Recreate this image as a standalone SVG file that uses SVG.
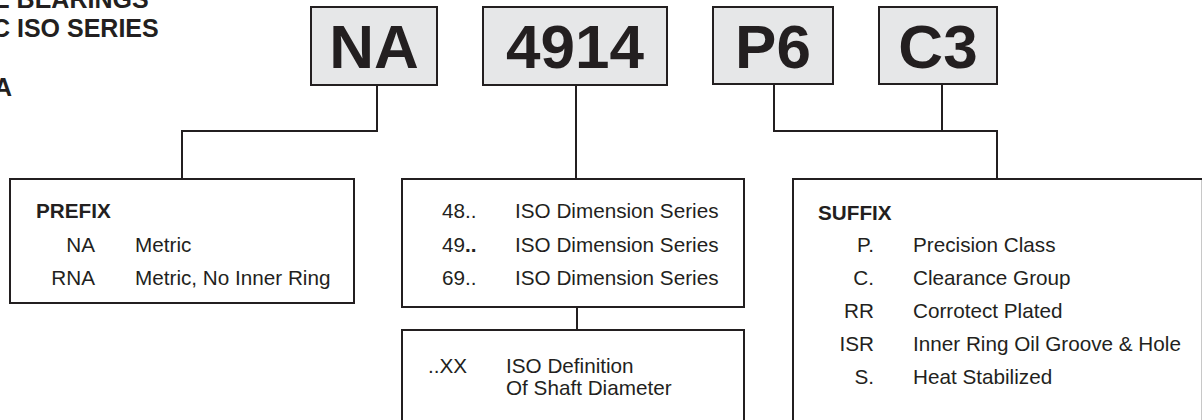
<svg xmlns="http://www.w3.org/2000/svg" width="1202" height="420" viewBox="0 0 1202 420">
<style>
text{font-family:"Liberation Sans",Arial,Helvetica,sans-serif;fill:#231f20}
.title{font-size:25px;font-weight:bold}
.big{font-size:62px;font-weight:bold;text-anchor:middle}
.hd{font-size:20.7px;font-weight:bold}
.t{font-size:20.7px}
.r{text-anchor:end}
.code{fill:#e6e7e8;stroke:#231f20;stroke-width:2}
.box{fill:#ffffff;stroke:#231f20;stroke-width:2}
.conn{fill:none;stroke:#231f20;stroke-width:2}
</style>
<rect width="1202" height="420" fill="#ffffff"/>
<g id="title">
<text class="title" x="-7" y="8">E BEARINGS</text>
<text class="title" x="-8" y="37">C ISO SERIES</text>
<text class="title" x="-6" y="96">A</text>
</g>
<g id="connectors">
<path class="conn" d="M377,85 V131 H182 V179"/>
<path class="conn" d="M576,85 V179"/>
<path class="conn" d="M577,307 V330"/>
<path class="conn" d="M774,84 V131 H997 V179"/>
<path class="conn" d="M942,84 V131"/>
</g>
<g id="node-na">
<rect class="code" x="311" y="7" width="126" height="78"/>
<text class="big" x="374" y="68">NA</text>
</g>
<g id="node-4914">
<rect class="code" x="483" y="7" width="184" height="78"/>
<text class="big" x="575" y="68">4914</text>
</g>
<g id="node-p6">
<rect class="code" x="713" y="7" width="120" height="77"/>
<text class="big" x="773" y="68">P6</text>
</g>
<g id="node-c3">
<rect class="code" x="879" y="7" width="118" height="77"/>
<text class="big" x="938" y="68">C3</text>
</g>
<g id="node-prefix">
<rect class="box" x="10" y="179" width="344" height="124"/>
<text class="hd" x="36" y="218">PREFIX</text>
<text class="t r" x="95" y="252">NA</text>
<text class="t" x="135" y="252">Metric</text>
<text class="t r" x="95" y="285">RNA</text>
<text class="t" x="135" y="285">Metric, No Inner Ring</text>
</g>
<g id="node-series">
<rect class="box" x="402" y="179" width="342" height="128"/>
<text class="t" x="442" y="218">48..</text>
<text class="t" x="515" y="218">ISO Dimension Series</text>
<text class="t" x="442" y="252">49<tspan font-weight="bold">..</tspan></text>
<text class="t" x="515" y="252">ISO Dimension Series</text>
<text class="t" x="442" y="285">69..</text>
<text class="t" x="515" y="285">ISO Dimension Series</text>
</g>
<g id="node-bore">
<path class="box" d="M402,422 V330 H744 V422"/>
<text class="t" x="428" y="373">..XX</text>
<text class="t" x="506" y="373">ISO Definition</text>
<text class="t" x="506" y="395">Of Shaft Diameter</text>
</g>
<g id="node-suffix">
<path class="box" d="M1203,179 H793 V422"/>
<line x1="1201.5" y1="180" x2="1201.5" y2="420" stroke="#c8c8c8" stroke-width="1"/>
<text class="hd" x="818" y="220">SUFFIX</text>
<text class="t r" x="874" y="252">P.</text>
<text class="t" x="913" y="252">Precision Class</text>
<text class="t r" x="874" y="285">C.</text>
<text class="t" x="913" y="285">Clearance Group</text>
<text class="t r" x="874" y="318">RR</text>
<text class="t" x="913" y="318">Corrotect Plated</text>
<text class="t r" x="874" y="351">ISR</text>
<text class="t" x="913" y="351">Inner Ring Oil Groove &amp; Hole</text>
<text class="t r" x="874" y="384">S.</text>
<text class="t" x="913" y="384">Heat Stabilized</text>
</g>
</svg>
